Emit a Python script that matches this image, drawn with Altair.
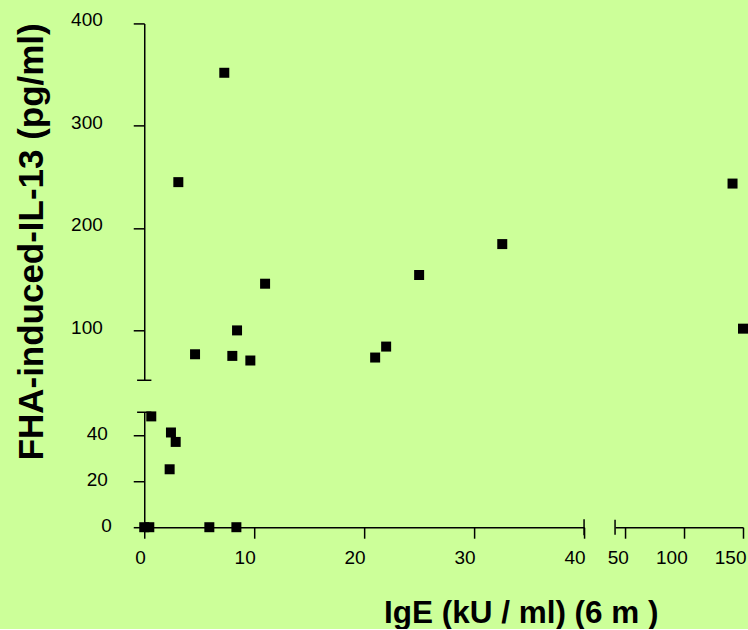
import altair as alt
import pandas as pd

# IgE (kU/ml) values and FHA-induced IL-13 (pg/ml) values
ige = [7.28, 3.10, 10.99, 4.62, 8.01, 9.65, 8.44, 32.56, 25.0, 22.0, 21.0,
       141.1, 150.0, 0.64, 2.43, 2.86, 2.31, 0.0, 0.46, 5.92, 8.38]
il13 = [351.8, 245.0, 145.8, 76.9, 75.3, 70.8, 100.2, 184.5, 154.3, 84.4, 73.7,
        243.6, 101.9, 48.2, 41.2, 37.1, 25.2, 0.0, 0.0, 0.0, 0.0]

x_ticks_left = [0, 10, 20, 30, 40]
x_ticks_right = [50, 100, 150]
y_ticks_upper = [100, 200, 300, 400]
y_ticks_lower = [0, 20, 40]

x_left_dom = [0, 40]
x_right_dom = [41.2, 150]
y_upper_dom = [51.5, 400]
y_lower_dom = [0, 50]

df = pd.DataFrame({"x": ige, "y": il13})

FONT = "Liberation Sans"
BG = "#ccff99"

base_axis = dict(
    domainColor="black", domainWidth=1.5, tickColor="black", tickWidth=1.5,
    tickSize=11, labelFont=FONT, labelFontSize=19, labelColor="black",
    grid=False, labelOverlap=False, labelFlush=False,
)

ax_ul_y = alt.Axis(
    values=y_ticks_upper, labelPadding=31, labelOffset=-3.5,
    title="FHA-induced-IL-13 (pg/ml)", titleFont=FONT, titleFontSize=35,
    titleFontWeight="bold", titleColor="black", titleAngle=270,
    titleAlign="center", titleBaseline="alphabetic", titleX=-101.6, titleY=218,
    **base_axis)
ax_ll_y = alt.Axis(
    values=y_ticks_lower,
    labelPadding={"condition": {"test": "datum.value === 0", "value": 22}, "value": 26},
    labelOffset=-2, title=None, **base_axis)
ax_ll_x = alt.Axis(
    values=x_ticks_left, labelAlign="right", labelOffset=1,
    labelBaseline="alphabetic", labelPadding=25,
    title="IgE (kU / ml) (6 m )", titleFont=FONT, titleFontSize=31.5,
    titleFontWeight="bold", titleColor="black", titleAlign="center",
    titleBaseline="alphabetic", titleX=376.7, titleY=95.4, **base_axis)
ax_lr_x = alt.Axis(
    values=x_ticks_right, labelAlign="right", labelOffset=3,
    labelBaseline="alphabetic", labelPadding=25, title=None, **base_axis)


def panel(xdom, ydom, w, h, xaxis, yaxis, test, caps):
    sx = alt.Scale(domain=xdom, nice=False, zero=False)
    sy = alt.Scale(domain=ydom, nice=False, zero=False)
    xa = xaxis if xaxis is not None else None
    ya = yaxis if yaxis is not None else None
    pts = alt.Chart(df).transform_filter(test).mark_square(
        size=100, color="black", opacity=1, clip=False
    ).encode(
        x=alt.X("x:Q", scale=sx, axis=xa),
        y=alt.Y("y:Q", scale=sy, axis=ya),
    )
    layers = [pts]
    for (x1, x2, y1, y2) in caps:
        if y2 is None:
            r = alt.Chart(df).mark_rule(color="black", strokeWidth=1.5).encode(
                x=alt.X(datum=x1, type="quantitative", scale=sx, axis=xa),
                x2=alt.X2(datum=x2),
                y=alt.Y(datum=y1, type="quantitative", scale=sy, axis=ya),
            ).transform_filter("datum.x === 0 && datum.y === 0").transform_window(
                rn="row_number()").transform_filter("datum.rn === 1")
        else:
            r = alt.Chart(df).mark_rule(color="black", strokeWidth=1.5).encode(
                x=alt.X(datum=x1, type="quantitative", scale=sx, axis=xa),
                y=alt.Y(datum=y1, type="quantitative", scale=sy, axis=ya),
                y2=alt.Y2(datum=y2),
            ).transform_filter("datum.x === 0 && datum.y === 0").transform_window(
                rn="row_number()").transform_filter("datum.rn === 1")
        layers.append(r)
    return alt.layer(*layers).properties(width=w, height=h)


W_L, W_R, H_U, H_L = 440, 128, 357, 115

ul = panel(x_left_dom, y_upper_dom, W_L, H_U, None, ax_ul_y,
           "datum.x <= 40 && datum.y > 50",
           [(-0.65, 0.65, y_upper_dom[0], None)])
ur = panel(x_right_dom, y_upper_dom, W_R, H_U, None, None,
           "datum.x > 40 && datum.y > 50", [])
ll = panel(x_left_dom, y_lower_dom, W_L, H_L, ax_ll_x, ax_ll_y,
           "datum.x <= 40 && datum.y <= 50",
           [(-0.65, 0.65, y_lower_dom[1], None), (x_left_dom[1], None, -3.5, 3.5)])
lr = panel(x_right_dom, y_lower_dom, W_R, H_L, ax_lr_x, None,
           "datum.x > 40 && datum.y <= 50",
           [(x_right_dom[0], None, -3.3, 3.3)])

chart = alt.concat(
    ul, ur, ll, lr, columns=2,
    spacing={"row": 32, "column": 31}, bounds="flush",
).properties(
    background=BG,
    padding={"left": 14.3, "top": 10.3, "right": 0, "bottom": 0},
).configure_view(strokeWidth=0)

chart.save("out.html", embed_options={"renderer": "svg", "actions": False})
